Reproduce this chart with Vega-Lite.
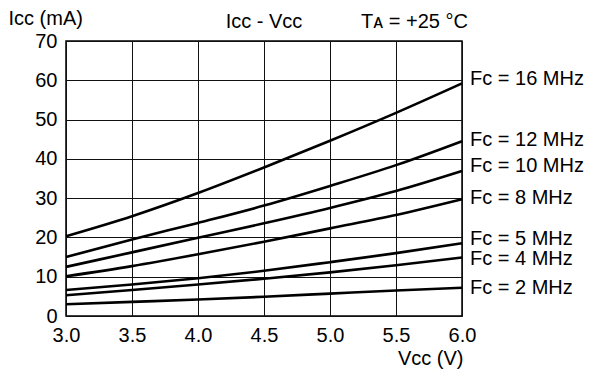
{
  "$schema": "https://vega.github.io/schema/vega-lite/v6.json",
  "width": 396,
  "height": 275,
  "autosize": "none",
  "padding": {"left": 66, "top": 41, "right": 132, "bottom": 65},
  "background": "white",
  "config": {
    "font": "Liberation Sans",
    "view": {"stroke": "black", "strokeWidth": 1.5},
    "axis": {
      "grid": true,
      "gridColor": "#111",
      "gridWidth": 1,
      "domain": false,
      "ticks": false,
      "labelFontSize": 20,
      "labelColor": "black",
      "labelOverlap": false,
      "labelFlush": false,
      "labelBound": false,
      "titleFontSize": 20,
      "titleFontWeight": "normal",
      "titleColor": "black"
    },
    "text": {"font": "Liberation Sans", "fontSize": 20, "color": "black"}
  },
  "datasets": {
    "curves": [
      {"Fc": 16, "Vcc": 3.0, "Icc": 20.3}, {"Fc": 16, "Vcc": 3.5, "Icc": 25.4}, {"Fc": 16, "Vcc": 4.0, "Icc": 31.3}, {"Fc": 16, "Vcc": 4.5, "Icc": 37.8}, {"Fc": 16, "Vcc": 5.0, "Icc": 44.6}, {"Fc": 16, "Vcc": 5.5, "Icc": 51.7}, {"Fc": 16, "Vcc": 6.0, "Icc": 59.2},
      {"Fc": 12, "Vcc": 3.0, "Icc": 15.0}, {"Fc": 12, "Vcc": 3.5, "Icc": 19.5}, {"Fc": 12, "Vcc": 4.0, "Icc": 23.7}, {"Fc": 12, "Vcc": 4.5, "Icc": 28.1}, {"Fc": 12, "Vcc": 5.0, "Icc": 33.1}, {"Fc": 12, "Vcc": 5.5, "Icc": 38.4}, {"Fc": 12, "Vcc": 6.0, "Icc": 44.5},
      {"Fc": 10, "Vcc": 3.0, "Icc": 12.5}, {"Fc": 10, "Vcc": 3.5, "Icc": 16.2}, {"Fc": 10, "Vcc": 4.0, "Icc": 19.9}, {"Fc": 10, "Vcc": 4.5, "Icc": 23.6}, {"Fc": 10, "Vcc": 5.0, "Icc": 27.5}, {"Fc": 10, "Vcc": 5.5, "Icc": 31.8}, {"Fc": 10, "Vcc": 6.0, "Icc": 36.9},
      {"Fc": 8, "Vcc": 3.0, "Icc": 10.1}, {"Fc": 8, "Vcc": 3.5, "Icc": 12.7}, {"Fc": 8, "Vcc": 4.0, "Icc": 15.7}, {"Fc": 8, "Vcc": 4.5, "Icc": 18.9}, {"Fc": 8, "Vcc": 5.0, "Icc": 22.3}, {"Fc": 8, "Vcc": 5.5, "Icc": 25.7}, {"Fc": 8, "Vcc": 6.0, "Icc": 29.7},
      {"Fc": 5, "Vcc": 3.0, "Icc": 6.6}, {"Fc": 5, "Vcc": 3.5, "Icc": 8.0}, {"Fc": 5, "Vcc": 4.0, "Icc": 9.6}, {"Fc": 5, "Vcc": 4.5, "Icc": 11.5}, {"Fc": 5, "Vcc": 5.0, "Icc": 13.7}, {"Fc": 5, "Vcc": 5.5, "Icc": 16.0}, {"Fc": 5, "Vcc": 6.0, "Icc": 18.5},
      {"Fc": 4, "Vcc": 3.0, "Icc": 5.3}, {"Fc": 4, "Vcc": 3.5, "Icc": 6.6}, {"Fc": 4, "Vcc": 4.0, "Icc": 8.0}, {"Fc": 4, "Vcc": 4.5, "Icc": 9.5}, {"Fc": 4, "Vcc": 5.0, "Icc": 11.1}, {"Fc": 4, "Vcc": 5.5, "Icc": 12.9}, {"Fc": 4, "Vcc": 6.0, "Icc": 14.9},
      {"Fc": 2, "Vcc": 3.0, "Icc": 3.0}, {"Fc": 2, "Vcc": 3.5, "Icc": 3.6}, {"Fc": 2, "Vcc": 4.0, "Icc": 4.2}, {"Fc": 2, "Vcc": 4.5, "Icc": 4.9}, {"Fc": 2, "Vcc": 5.0, "Icc": 5.7}, {"Fc": 2, "Vcc": 5.5, "Icc": 6.5}, {"Fc": 2, "Vcc": 6.0, "Icc": 7.2}
    ],
    "labels": [
      {"label": "Fᴄ = 16 MHz", "Vcc": 6.0, "Icc": 60.3},
      {"label": "Fᴄ = 12 MHz", "Vcc": 6.0, "Icc": 44.8},
      {"label": "Fᴄ = 10 MHz", "Vcc": 6.0, "Icc": 38.3},
      {"label": "Fᴄ = 8 MHz", "Vcc": 6.0, "Icc": 30.0},
      {"label": "Fᴄ = 5 MHz", "Vcc": 6.0, "Icc": 19.5},
      {"label": "Fᴄ = 4 MHz", "Vcc": 6.0, "Icc": 14.4},
      {"label": "Fᴄ = 2 MHz", "Vcc": 6.0, "Icc": 7.2}
    ],
    "notes": [
      {"label": "Iᴄᴄ - Vᴄᴄ", "Vcc": 4.5, "Icc": 73.2},
      {"label": "Tᴀ = +25 °C", "Vcc": 5.64, "Icc": 73.2}
    ]
  },
  "encoding": {
    "x": {
      "field": "Vcc", "type": "quantitative",
      "scale": {"domain": [3, 6], "nice": false, "zero": false},
      "axis": {
        "values": [3, 3.5, 4, 4.5, 5, 5.5, 6], "format": ".1f", "labelPadding": 9,
        "title": "Vᴄᴄ (V)", "titleAlign": "right", "titleAnchor": "end", "titleX": 397, "titleY": 48, "titleBaseline": "alphabetic"
      }
    },
    "y": {
      "field": "Icc", "type": "quantitative",
      "scale": {"domain": [0, 70], "nice": false, "zero": true},
      "axis": {
        "values": [0, 10, 20, 30, 40, 50, 60, 70], "tickCount": 8, "labelPadding": 9,
        "title": "Iᴄᴄ (mA)", "titleAngle": 0, "titleAlign": "left", "titleX": -58, "titleY": -17, "titleBaseline": "alphabetic"
      }
    }
  },
  "layer": [
    {
      "data": {"name": "curves"},
      "mark": {"type": "line", "interpolate": "monotone", "color": "black", "strokeWidth": 2.6},
      "encoding": {
        "detail": {"field": "Fc", "type": "nominal"}
      }
    },
    {
      "data": {"name": "labels"},
      "mark": {"type": "text", "align": "left", "baseline": "middle", "dx": 8},
      "encoding": {
        "text": {"field": "label"}
      }
    },
    {
      "data": {"name": "notes"},
      "mark": {"type": "text", "align": "center", "baseline": "alphabetic"},
      "encoding": {
        "text": {"field": "label"}
      }
    }
  ]
}
